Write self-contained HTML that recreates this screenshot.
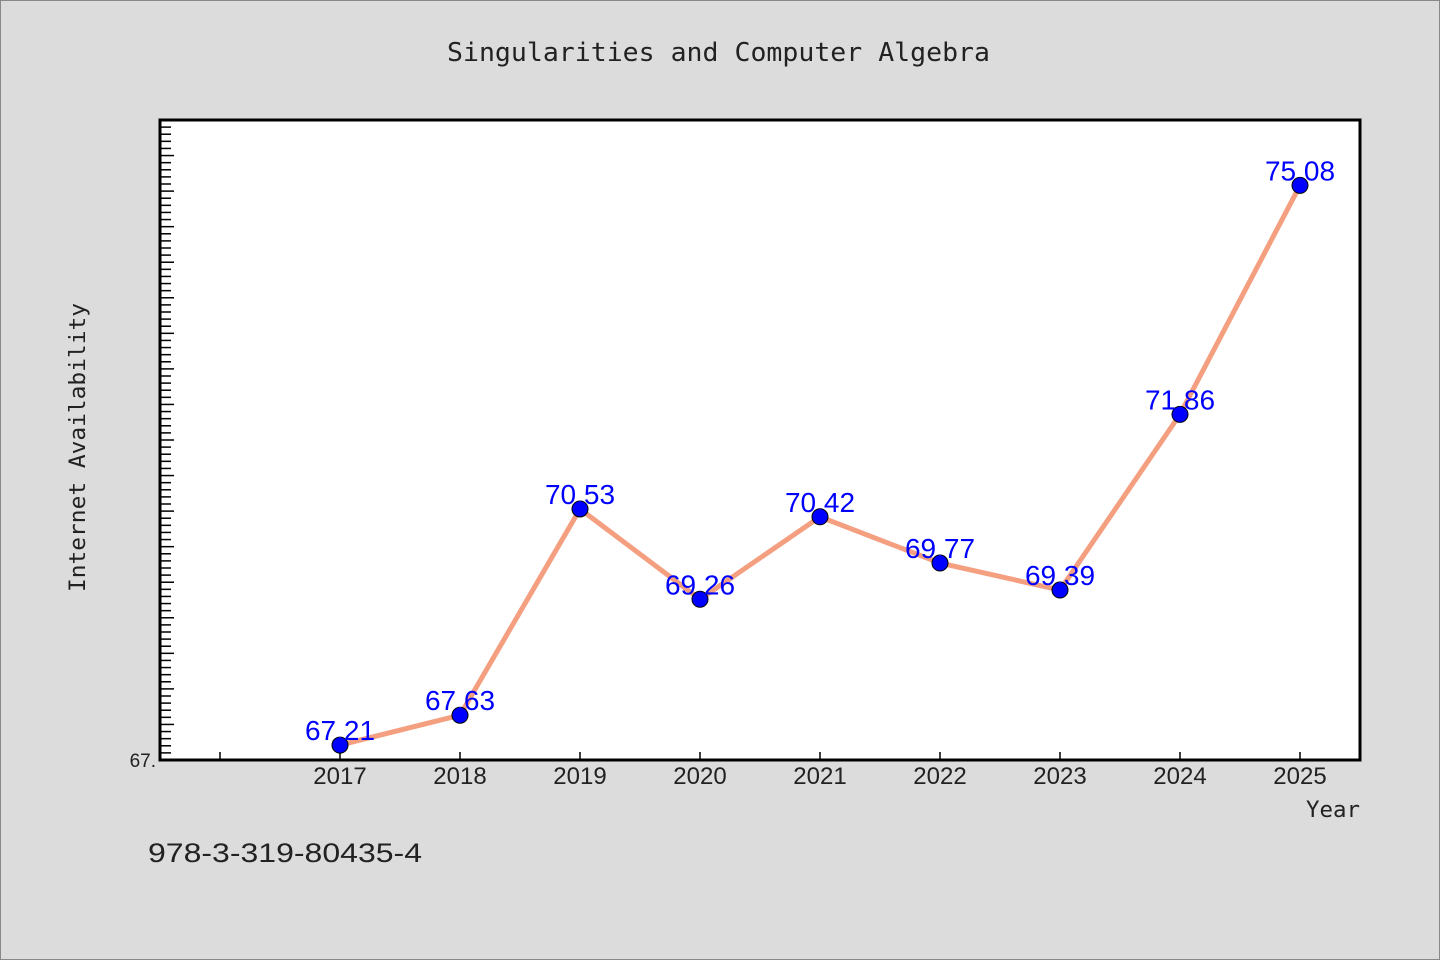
<!DOCTYPE html>
<html><head><meta charset="utf-8"><style>
body{margin:0;background:#dcdcdc;}
svg{display:block;font-family:"Liberation Sans",sans-serif;}
</style></head><body>
<svg width="1440" height="960">
<rect x="0.5" y="0.5" width="1439" height="959" fill="#dcdcdc" stroke="#888"/>
<text x="447" y="61" font-family="DejaVu Sans Mono, monospace" font-size="26" fill="#222" textLength="543" lengthAdjust="spacingAndGlyphs">Singularities and Computer Algebra</text>
<rect x="160" y="120" width="1200" height="640" fill="#fff"/>
<g id="ticks"></g>
<g id="series"></g>
<rect x="160" y="120" width="1200" height="640" fill="none" stroke="#000" stroke-width="3"/>
<text x="85" y="592" font-family="DejaVu Sans Mono, monospace" font-size="22" fill="#222" textLength="289" lengthAdjust="spacingAndGlyphs" transform="rotate(-90 85 592)">Internet Availability</text>
<text x="1306" y="817" font-family="DejaVu Sans Mono, monospace" font-size="22" fill="#222" textLength="54" lengthAdjust="spacingAndGlyphs">Year</text>
<text x="148" y="862" font-size="27" fill="#222" textLength="274" lengthAdjust="spacingAndGlyphs">978-3-319-80435-4</text>
</svg>
<script>
const years=[2017,2018,2019,2020,2021,2022,2023,2024,2025];
const values=[67.21,67.63,70.53,69.26,70.42,69.77,69.39,71.86,75.08];
const labels=["67.21","67.63","70.53","69.26","70.42","69.77","69.39","71.86","75.08"];
const yTickLabels=["67."];
const NS="http://www.w3.org/2000/svg";
const X=v=>160+(v-2015.5)*120;
const Y=v=>760-(v-67)*(640/9);
function mk(t,a,p){const e=document.createElementNS(NS,t);for(const k in a)e.setAttribute(k,a[k]);p.appendChild(e);return e;}
const tg=document.getElementById('ticks'),sg=document.getElementById('series');
for(let i=0;i<=90;i++){const v=67+i*0.1;const len=i%5==0?14:11;
 const l=mk('line',{x1:160,x2:160+len,y1:Y(v),y2:Y(v),stroke:'#000','stroke-width':1.5},tg);
 
 }
const yl=mk('text',{x:156,y:767,'text-anchor':'end','font-size':19,fill:'#222'},tg);yl.textContent=yTickLabels[0];


for(let yr=2016;yr<=2025;yr++){const l=mk('line',{x1:X(yr),x2:X(yr),y1:760,y2:752,stroke:'#000','stroke-width':1.5},tg);
 
 
 if(yr>=2017){const t=mk('text',{x:X(yr),y:784,'text-anchor':'middle','font-size':24,fill:'#222'},tg);t.textContent=yr;
 
 }}
const pts=years.map((y,i)=>X(y)+','+Y(values[i])).join(' ');
const pl=mk('polyline',{points:pts,fill:'none',stroke:'#f4a080','stroke-width':5,'stroke-linejoin':'round'},sg);


years.forEach((y,i)=>{const c=mk('circle',{cx:X(y),cy:Y(values[i]),r:8,fill:'#0000ff',stroke:'#000','stroke-width':1},sg);
 
 
 const t=mk('text',{x:X(y),y:Y(values[i])-5,'text-anchor':'middle','font-size':28,fill:'#0000ff'},sg);t.textContent=labels[i];
 
 });
</script>
</body></html>
